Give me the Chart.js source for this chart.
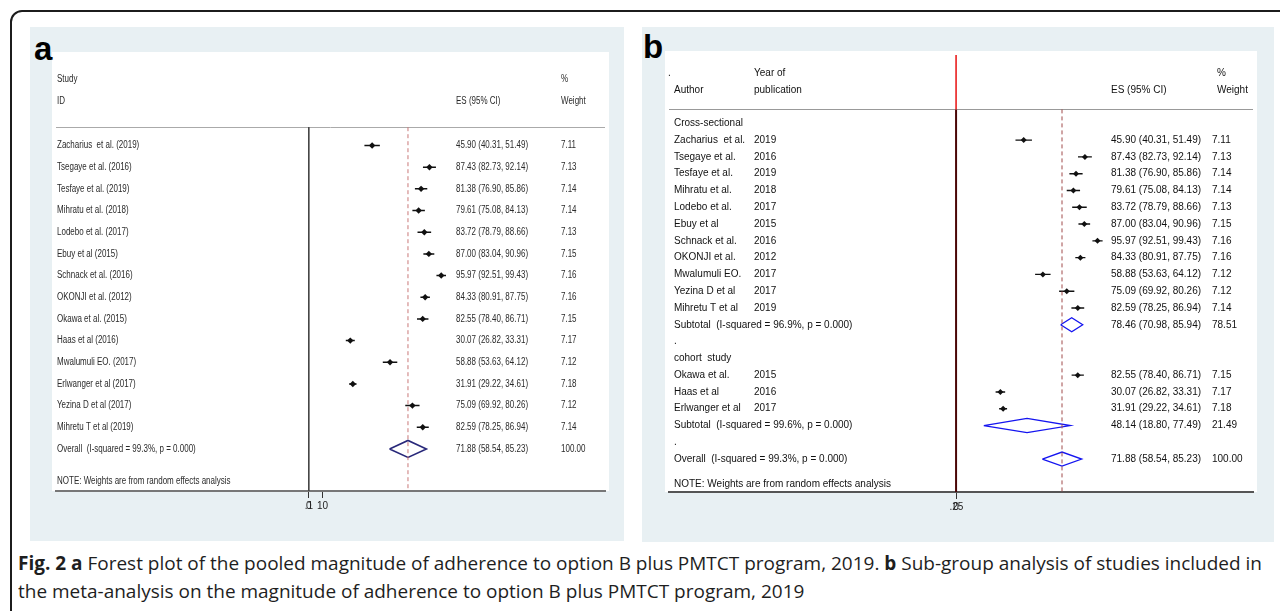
<!DOCTYPE html>
<html>
<head>
<meta charset="utf-8">
<script src="https://cdn.jsdelivr.net/npm/chart.js@4.4.1/dist/chart.umd.min.js"></script>
<style>
  body { margin: 0; width: 1280px; height: 611px; overflow: hidden; position: relative; background: #fff; }
  #frame { position: absolute; left: 10px; top: 10px; width: 1320px; height: 700px; border: 2px solid #1c1c1c; border-radius: 12px; box-sizing: border-box; }
  .panel { position: absolute; background: #e8f0f3; }
  .sheet { position: absolute; background: #fff; }
  .tag { position: absolute; font: bold 33px "Liberation Sans", Arial, sans-serif; color: #000; line-height: 1; }
  canvas { position: absolute; }
  .cap { position: absolute; left: 18px; white-space: nowrap; font: 19px "Open Sans", sans-serif; line-height: 22px; color: #1e1e1e; transform-origin: 0 50%; }
</style>
</head>
<body>
<div id="frame"></div>
<div class="panel" style="left:30px;top:27px;width:594px;height:514px"></div>
<div class="panel" style="left:642px;top:27px;width:632px;height:515px"></div>
<div class="sheet" style="left:52px;top:52px;width:557px;height:439px"></div>
<div class="sheet" style="left:665px;top:51px;width:592px;height:441px"></div>
<div class="tag" style="left:34px;top:32px">a</div>
<div class="tag" style="left:643px;top:30px">b</div>
<canvas id="chartA" width="557" height="469" style="left:52px;top:52px;width:557px;height:469px"></canvas>
<canvas id="chartB" width="592" height="471" style="left:665px;top:51px;width:592px;height:471px"></canvas>
<div id="cap1" class="cap" style="top:552px"><b>Fig. 2 a</b> Forest plot of the pooled magnitude of adherence to option B plus PMTCT program, 2019. <b>b</b> Sub-group analysis of studies included in</div>
<div id="cap2" class="cap" style="top:580px">the meta-analysis on the magnitude of adherence to option B plus PMTCT program, 2019</div>

<script>
// study level data, in the order of panel a
const authors = ['Zacharius  et al.', 'Tsegaye et al.', 'Tesfaye et al.', 'Mihratu et al.', 'Lodebo et al.',
  'Ebuy et al', 'Schnack et al.', 'OKONJI et al.', 'Okawa et al.', 'Haas et al', 'Mwalumuli EO.',
  'Erlwanger et al', 'Yezina D et al', 'Mihretu T et al'];
const years = [2019, 2016, 2019, 2018, 2017, 2015, 2016, 2012, 2015, 2016, 2017, 2017, 2017, 2019];
const design = ['cs', 'cs', 'cs', 'cs', 'cs', 'cs', 'cs', 'cs', 'cohort', 'cohort', 'cs', 'cohort', 'cs', 'cs'];
const es = [45.90, 87.43, 81.38, 79.61, 83.72, 87.00, 95.97, 84.33, 82.55, 30.07, 58.88, 31.91, 75.09, 82.59];
const lo = [40.31, 82.73, 76.90, 75.08, 78.79, 83.04, 92.51, 80.91, 78.40, 26.82, 53.63, 29.22, 69.92, 78.25];
const hi = [51.49, 92.14, 85.86, 84.13, 88.66, 90.96, 99.43, 87.75, 86.71, 33.31, 64.12, 34.61, 80.26, 86.94];
const weights = [7.11, 7.13, 7.14, 7.14, 7.13, 7.15, 7.16, 7.16, 7.15, 7.17, 7.12, 7.18, 7.12, 7.14];

// subgroup pooled estimates (panel b)
const groupKeys = ['cs', 'cohort'];
const groupNames = ['Cross-sectional', 'cohort  study'];
const groupES = [78.46, 48.14];
const groupLo = [70.98, 18.80];
const groupHi = [85.94, 77.49];
const groupWeight = [78.51, 21.49];
const groupI2 = [96.9, 99.6];

// overall pooled estimate
const overallES = 71.88;
const overallLo = 58.54;
const overallHi = 85.23;
const overallWeight = 100.00;
const overallI2 = 99.3;

// axis ticks as printed
const ticksA = [0, 0.1, 10];
const tickLabelsA = ['0', '.1', '10'];
const ticksB = [0, 0.25];
const tickLabelsB = ['0', '.25'];

const f2 = v => v.toFixed(2);
const esText = (e, l, h) => `${f2(e)} (${f2(l)}, ${f2(h)})`;
const hetText = (name, i2) => `${name}  (I-squared = ${i2.toFixed(1)}%, p = 0.000)`;

function ciLines(rows, ls, hs) {
  const d = [];
  rows.forEach((r, i) => d.push({ x: ls[i], y: r }, { x: hs[i], y: r }, { x: null, y: null }));
  return d;
}
function diamonds(rows, cs, ls, hs, h) {
  const d = [];
  rows.forEach((r, i) => d.push({ x: ls[i], y: r }, { x: cs[i], y: r - h }, { x: hs[i], y: r },
    { x: cs[i], y: r + h }, { x: ls[i], y: r }, { x: null, y: null }));
  return d;
}

// table text + header rule, positioned on the row scale
const forestText = {
  id: 'forestText',
  beforeDatasetsDraw(chart, args, opts) {
    const { ctx, chartArea, scales } = chart;
    const ry = Math.round(scales.y.getPixelForValue(opts.ruleRow)) + 0.5;
    ctx.save();
    ctx.strokeStyle = opts.ruleColor;
    ctx.lineWidth = 1;
    ctx.beginPath();
    ctx.moveTo(chartArea.left, ry);
    ctx.lineTo(chartArea.right, ry);
    ctx.stroke();
    ctx.restore();
  },
  afterDatasetsDraw(chart, args, opts) {
    const { ctx, scales } = chart;
    ctx.save();
    ctx.fillStyle = opts.color;
    ctx.textBaseline = 'middle';
    ctx.font = `${opts.size}px "Liberation Sans", Arial, sans-serif`;
    opts.items.forEach(it => {
      ctx.save();
      ctx.translate(it.x, scales.y.getPixelForValue(it.row));
      ctx.scale(opts.stretch, 1);
      ctx.fillText(it.text, 0, 0);
      ctx.restore();
    });
    ctx.restore();
  }
};

function xAxis(min, max, ticks, labels, borderColor) {
  return {
    type: 'linear', min, max,
    afterFit: s => { s.height = 30; },
    afterBuildTicks: s => { s.ticks = ticks.map(v => ({ value: v })); },
    ticks: {
      autoSkip: false, maxRotation: 0, padding: 2, color: '#222',
      font: { family: 'Liberation Sans', size: 10 },
      callback: (v, i) => labels[i]
    },
    grid: { drawOnChartArea: false, drawTicks: true, tickLength: 7, color: '#333', lineWidth: 1 },
    border: { display: true, color: borderColor, width: 2 }
  };
}

// ---------- panel a ----------
const rowsA = es.map((v, i) => i);
const overallRowA = es.length;
const yMinA = -4.13, yMaxA = 15.94, ruleA = -0.845;

const itemsA = [
  { x: 5, row: -3.04, text: 'Study' }, { x: 509, row: -3.04, text: '%' },
  { x: 5, row: -2.02, text: 'ID' }, { x: 404, row: -2.02, text: 'ES (95% CI)' }, { x: 509, row: -2.02, text: 'Weight' }
];
rowsA.forEach(i => {
  itemsA.push({ x: 5, row: i, text: `${authors[i]} (${years[i]})` });
  itemsA.push({ x: 404, row: i, text: esText(es[i], lo[i], hi[i]) });
  itemsA.push({ x: 509, row: i, text: f2(weights[i]) });
});
itemsA.push({ x: 5, row: overallRowA, text: hetText('Overall', overallI2) });
itemsA.push({ x: 404, row: overallRowA, text: esText(overallES, overallLo, overallHi) });
itemsA.push({ x: 509, row: overallRowA, text: f2(overallWeight) });
itemsA.push({ x: 5, row: 15.5, text: 'NOTE: Weights are from random effects analysis' });

new Chart(document.getElementById('chartA'), {
  type: 'line',
  data: {
    datasets: [
      { data: [{ x: 0, y: ruleA }, { x: 0, y: yMaxA }], borderColor: '#444', borderWidth: 1, pointRadius: 0 },
      { data: [{ x: overallES, y: ruleA }, { x: overallES, y: yMaxA }], borderColor: '#c97878', borderWidth: 1, borderDash: [4, 3], pointRadius: 0 },
      { data: ciLines(rowsA, lo, hi), borderColor: '#111', borderWidth: 1.5, pointRadius: 0 },
      { data: rowsA.map(i => ({ x: es[i], y: i })), showLine: false, pointStyle: 'rectRot', pointRadius: 3.2,
        backgroundColor: '#111', borderColor: '#111', borderWidth: 0 },
      { data: diamonds([overallRowA], [overallES], [overallLo], [overallHi], 0.39), borderColor: '#28287a', borderWidth: 1.6, pointRadius: 0 }
    ]
  },
  options: {
    responsive: false, animation: false, devicePixelRatio: 1, events: [],
    layout: { padding: 0 },
    scales: {
      x: xAxis(-183.2, 214.66, ticksA, tickLabelsA, '#777'),
      y: { type: 'linear', display: false, reverse: true, min: yMinA, max: yMaxA }
    },
    plugins: {
      legend: { display: false }, tooltip: { enabled: false },
      forestText: { items: itemsA, size: 10, stretch: 0.8, color: '#2a2a2a', ruleRow: ruleA, ruleColor: '#aaa' }
    }
  },
  plugins: [forestText]
});

// ---------- panel b ----------
const yMinB = -4.07, yMaxB = 21.96, ruleB = -0.83;
const itemsB = [
  { x: 3, row: -2.99, text: '.' }, { x: 89, row: -2.99, text: 'Year of' }, { x: 552, row: -2.99, text: '%' },
  { x: 9, row: -2.0, text: 'Author' }, { x: 89, row: -2.0, text: 'publication' },
  { x: 446, row: -2.0, text: 'ES (95% CI)' }, { x: 552, row: -2.0, text: 'Weight' }
];
const studyRowsB = [], studyIdxB = [], subRowsB = [];
let r = 0;
groupKeys.forEach((g, gi) => {
  itemsB.push({ x: 9, row: r++, text: groupNames[gi] });
  design.forEach((d, i) => {
    if (d !== g) return;
    studyRowsB.push(r); studyIdxB.push(i);
    itemsB.push({ x: 9, row: r, text: authors[i] });
    itemsB.push({ x: 89, row: r, text: String(years[i]) });
    itemsB.push({ x: 446, row: r, text: esText(es[i], lo[i], hi[i]) });
    itemsB.push({ x: 547, row: r, text: f2(weights[i]) });
    r++;
  });
  subRowsB.push(r);
  itemsB.push({ x: 9, row: r, text: hetText('Subtotal', groupI2[gi]) });
  itemsB.push({ x: 446, row: r, text: esText(groupES[gi], groupLo[gi], groupHi[gi]) });
  itemsB.push({ x: 547, row: r, text: f2(groupWeight[gi]) });
  r++;
  itemsB.push({ x: 9, row: r++, text: '.' });
});
const overallRowB = r;
itemsB.push({ x: 9, row: overallRowB, text: hetText('Overall', overallI2) });
itemsB.push({ x: 446, row: overallRowB, text: esText(overallES, overallLo, overallHi) });
itemsB.push({ x: 547, row: overallRowB, text: f2(overallWeight) });
itemsB.push({ x: 9, row: 21.49, text: 'NOTE: Weights are from random effects analysis' });

new Chart(document.getElementById('chartB'), {
  type: 'line',
  data: {
    datasets: [
      { data: [{ x: 0, y: yMinB }, { x: 0, y: ruleB }], borderColor: '#e81010', borderWidth: 1.5, pointRadius: 0 },
      { data: [{ x: 0, y: ruleB }, { x: 0, y: yMaxB }], borderColor: '#4a0606', borderWidth: 2, pointRadius: 0 },
      { data: [{ x: overallES, y: ruleB }, { x: overallES, y: yMaxB }], borderColor: '#a04a4a', borderWidth: 1, borderDash: [4, 3], pointRadius: 0 },
      { data: ciLines(studyRowsB, studyIdxB.map(i => lo[i]), studyIdxB.map(i => hi[i])), borderColor: '#111', borderWidth: 1.4, pointRadius: 0 },
      { data: studyIdxB.map((i, k) => ({ x: es[i], y: studyRowsB[k] })), showLine: false, pointStyle: 'rectRot', pointRadius: 3,
        backgroundColor: '#111', borderColor: '#111', borderWidth: 0 },
      { data: diamonds([...subRowsB, overallRowB], [...groupES, overallES], [...groupLo, overallLo], [...groupHi, overallHi], 0.42),
        borderColor: '#1414f0', borderWidth: 1.3, pointRadius: 0 }
    ]
  },
  options: {
    responsive: false, animation: false, devicePixelRatio: 1, events: [],
    layout: { padding: 0 },
    scales: {
      x: xAxis(-194.78, 201.47, ticksB, tickLabelsB, '#555'),
      y: { type: 'linear', display: false, reverse: true, min: yMinB, max: yMaxB }
    },
    plugins: {
      legend: { display: false }, tooltip: { enabled: false },
      forestText: { items: itemsB, size: 10, stretch: 1, color: '#111', ruleRow: ruleB, ruleColor: '#999' }
    }
  },
  plugins: [forestText]
});

// fit caption to the printed line width
const cap1 = document.getElementById('cap1'), cap2 = document.getElementById('cap2');
const k = 1244 / cap1.getBoundingClientRect().width;
cap1.style.transform = cap2.style.transform = `scaleX(${k})`;
</script>
</body>
</html>
